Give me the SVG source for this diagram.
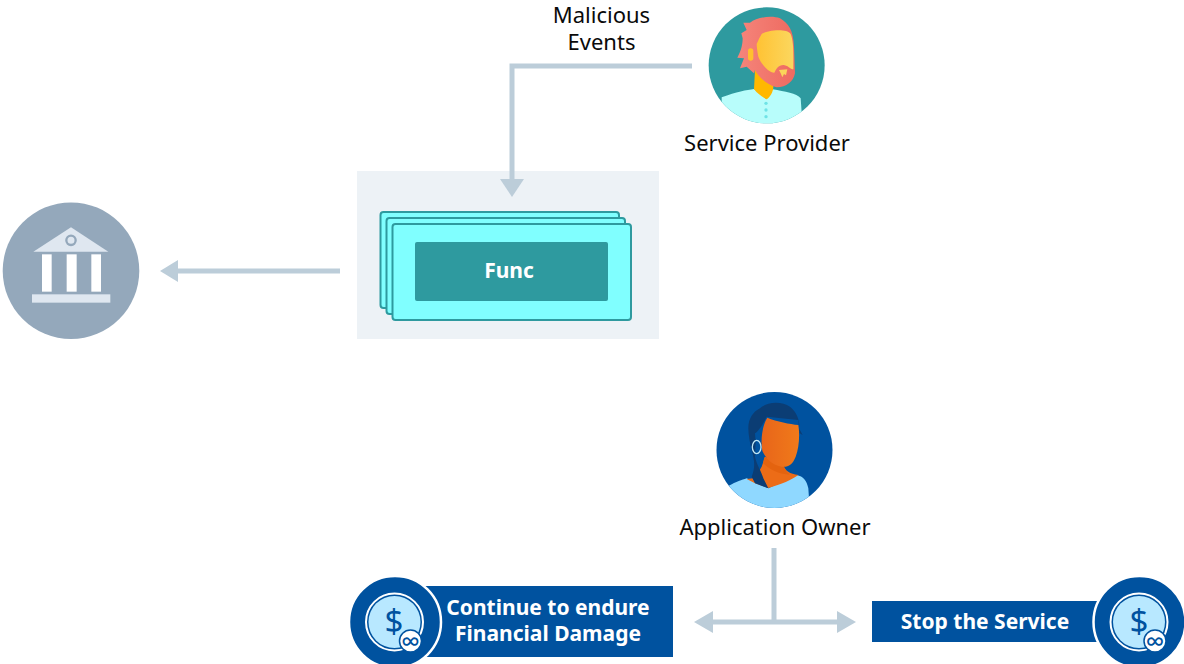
<svg xmlns="http://www.w3.org/2000/svg" width="1184" height="664" viewBox="0 0 1184 664">
<style>
text{font-family:"Noto Sans","Lato",sans-serif;text-anchor:middle}
.lbl{font-size:22px;fill:#0a0a0a}
.btn{font-size:21px;font-weight:700;fill:#fff}
.wire{fill:none;stroke:#bccdd9;stroke-width:5}
.head{fill:#bccdd9}
.card{fill:#80ffff;stroke:#2e9a9f;stroke-width:2}
.navy{fill:#00529f}
.sym{font-size:33px;fill:#00529f}
.inf{font-size:25px;fill:#00529f}
</style>
<defs>
<linearGradient id="hair" x1="0" x2="1"><stop offset="0" stop-color="#f5857b"/><stop offset="1" stop-color="#ee6a60"/></linearGradient>
<linearGradient id="skin" x1="0" x2="1"><stop offset="0" stop-color="#ffc233"/><stop offset="1" stop-color="#fbd75f"/></linearGradient>
<linearGradient id="face2" x1="0" x2="1"><stop offset="0" stop-color="#e8651a"/><stop offset="1" stop-color="#f07a1a"/></linearGradient>
<clipPath id="c1"><circle cx="110" cy="166" r="174"/></clipPath>
<clipPath id="c2"><circle cx="118.5" cy="150" r="174"/></clipPath>
</defs>
<g id="panel">
<rect x="357" y="171" width="302" height="168" fill="#edf2f6"/>
</g>
<g id="connectors">
<path class="wire" d="M692 66H512V180"/>
<path class="head" d="M500 179H524L512 197Z"/>
<path class="wire" d="M340 271H176"/>
<path class="head" d="M178 260V282L160 271Z"/>
<path class="wire" d="M774 548V622M710 622H840"/>
<path class="head" d="M713 611V633L694 622Z"/>
<path class="head" d="M837 611V633L856 622Z"/>
</g>
<g id="label-malicious">
<text class="lbl" x="601.500" y="23">Malicious</text>
<text class="lbl" x="601.500" y="50">Events</text>
</g>
<g id="service-provider">
<g transform="translate(730 10) scale(.33333)">
<circle cx="110" cy="166" r="174" fill="#2e9a9f"/>
<g clip-path="url(#c1)">
<path fill="#b8fdfb" d="M-25 262C20 245 50 240 72 237L108 266L128 238C165 245 200 250 212 265L218 350H-25Z"/>
<path fill="#ffb800" d="M75 180L72 237C85 255 105 265 110 268C120 262 130 245 130 230V200Z"/>
<path fill="url(#hair)" d="M40 38H60C80 22 125 15 150 25C175 40 190 60 192 110L195 190C190 215 170 232 140 232C110 225 85 200 75 180L72 190L50 170L30 175L42 145L22 143C35 120 38 100 38 85L34 70L50 60Z"/>
<path fill="url(#skin)" d="M95 72C115 60 170 55 182 72C192 95 190 140 190 178C182 178 172 165 160 165C145 165 138 178 133 188C115 188 92 160 85 140C82 125 80 110 80 102C85 90 90 80 95 72Z"/>
<path fill="#fbd55a" d="M147 180L172 178L168 196L162 192L157 202L152 190Z"/>
<rect x="54" y="115" width="16" height="37" rx="8" fill="#ffc02e"/>
<g fill="#6fe3e6"><circle cx="108" cy="280" r="5"/><circle cx="108" cy="300" r="5"/><circle cx="108" cy="320" r="5"/></g>
</g>
</g>
<text class="lbl" x="767" y="151">Service Provider</text>
</g>
<g id="func">
<rect class="card" x="380.5" y="212" width="238.5" height="96" rx="3"/>
<rect class="card" x="386.5" y="218" width="238.5" height="96" rx="3"/>
<rect class="card" x="392.5" y="224" width="238.5" height="96" rx="3"/>
<rect x="415" y="242" width="193" height="59" rx="2" fill="#2e9a9f"/>
<text class="btn" x="509" y="278">Func</text>
</g>
<g id="bank">
<circle cx="71" cy="270.7" r="68.3" fill="#94a8bb"/>
<g transform="translate(0 195) scale(.33333)">
<path fill="#dfe7f0" d="M213 97L325 170H100Z"/>
<circle cx="213" cy="136" r="14" fill="#dfe7f0" stroke="#94a8bb" stroke-width="7"/>
<g fill="#fff"><rect x="126" y="178" width="29" height="112"/><rect x="200" y="178" width="30" height="112"/><rect x="274" y="178" width="29" height="112"/></g>
<rect x="96" y="298" width="235" height="25" fill="#dfe7f0"/>
</g>
</g>
<g id="application-owner">
<g transform="translate(735 400) scale(.33333)">
<circle cx="118.5" cy="150" r="174" fill="#00529f"/>
<g clip-path="url(#c2)">
<path fill="#8fd8ff" d="M-20 258C5 245 20 240 35 235L100 265L185 225C205 230 215 240 220 265L225 340H-20Z"/>
<path fill="#ec6c17" d="M60 234L35 237L60 250L100 264C140 252 170 240 190 225C165 222 150 212 145 195L90 170L80 200Z"/>
<path fill="#e4630f" d="M88 172L145 195C150 212 158 218 165 223C130 225 100 205 84 190Z"/>
<path fill="#0b3d74" d="M40 85C40 55 55 35 75 25C95 5 140 3 165 20C190 40 195 70 192 85L203 105L194 100L190 60L95 50C85 70 70 95 60 100L62 125L60 170C65 195 80 215 85 235L100 265L60 250L50 230C60 205 60 185 50 150C45 130 40 105 40 85Z"/>
<path fill="url(#face2)" d="M97 53C125 65 165 72 190 75C195 105 192 145 182 170C172 195 160 202 140 200C110 195 90 172 82 152C75 115 85 70 97 53Z"/>
<ellipse cx="65" cy="141" rx="13" ry="20" fill="none" stroke="#bfe6f5" stroke-width="4"/>
</g>
</g>
<text class="lbl" x="775" y="535">Application Owner</text>
</g>
<g id="continue">
<rect class="navy" x="425" y="586" width="248" height="71"/>
<circle class="navy" cx="395" cy="622" r="46" stroke="#fff" stroke-width="2.5"/>
<circle cx="394.5" cy="622" r="28.5" fill="none" stroke="#fff" stroke-width="2"/>
<circle cx="394.5" cy="622" r="26" fill="#b8e8ff"/>
<text class="sym" x="394" y="633">$</text>
<circle cx="410.5" cy="641" r="11" fill="#fff" stroke="#00529f" stroke-width="1.5"/>
<text class="inf" x="410.5" y="649">∞</text>
<text class="btn" x="548" y="615">Continue to endure</text>
<text class="btn" x="548" y="641">Financial Damage</text>
</g>
<g id="stop">
<rect class="navy" x="872" y="601" width="240" height="41"/>
<circle class="navy" cx="1139.5" cy="622" r="46" stroke="#fff" stroke-width="2.5"/>
<circle cx="1139" cy="622" r="28.5" fill="none" stroke="#fff" stroke-width="2"/>
<circle cx="1139" cy="622" r="26" fill="#b8e8ff"/>
<text class="sym" x="1139" y="633">$</text>
<circle cx="1155" cy="641" r="11" fill="#fff" stroke="#00529f" stroke-width="1.5"/>
<text class="inf" x="1155" y="649">∞</text>
<text class="btn" x="985" y="629">Stop the Service</text>
</g>
</svg>
